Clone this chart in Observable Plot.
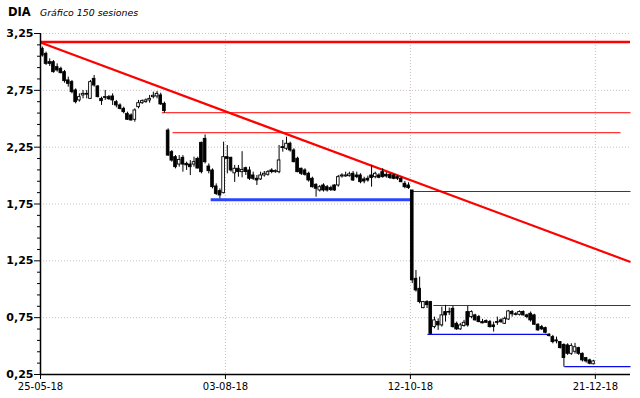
<!DOCTYPE html>
<html>
<head>
<meta charset="utf-8">
<script src="https://cdn.jsdelivr.net/npm/d3@7"></script>
<script src="https://cdn.jsdelivr.net/npm/@observablehq/plot@0.6"></script>
<style>
  html, body { margin: 0; padding: 0; background: #fff; }
  #title { position: relative; height: 22px; width: 640px; font-family: "DejaVu Sans", sans-serif; color: #000; }
  #title .t1 { position: absolute; left: 8px; top: 5px; font-size: 11.5px; font-weight: bold; }
  #title .t2 { position: absolute; left: 40px; top: 7px; font-size: 9.4px; font-style: italic; }
  #chart svg [aria-label="y-axis tick label"] text { font-weight: bold; }
</style>
</head>
<body>
<div id="title"><span class="t1">DIA</span><span class="t2">Gráfico 150 sesiones</span></div>
<div id="chart"></div>
<script>
// ---- Data ----
const opens = [
3.115,3.071,2.998,2.998,2.954,2.939,2.910,2.837,2.822,2.749,
2.661,2.705,2.719,2.675,2.851,2.784,2.675,2.690,2.690,2.696,
2.646,2.617,2.587,2.543,2.529,2.491,2.602,2.637,2.646,2.661,
2.690,2.696,2.705,2.631,2.396,2.206,2.162,2.097,2.156,2.103,
2.097,2.097,2.147,2.288,2.323,2.080,2.045,1.904,1.863,1.845,
2.162,2.156,2.020,2.060,2.030,2.065,2.045,2.001,1.972,1.966,
2.001,2.007,2.045,2.030,2.030,2.250,2.236,2.280,2.221,2.148,
2.060,2.045,2.016,1.972,1.919,1.869,1.913,1.898,1.890,1.913,
1.913,1.992,1.992,1.995,2.016,2.001,2.001,1.966,1.972,2.001,
1.986,2.001,2.030,2.007,2.007,2.001,1.986,1.972,1.928,1.913,
1.869,1.092,1.004,0.834,0.887,0.887,0.667,0.711,0.682,0.799,
0.800,0.828,0.696,0.647,0.676,0.799,0.755,0.770,0.755,0.711,
0.720,0.711,0.682,0.711,0.726,0.696,0.734,0.800,0.780,0.775,
0.800,0.770,0.784,0.770,0.688,0.667,0.658,0.600,0.579,0.550,
0.535,0.510,0.506,0.432,0.450,0.482,0.432,0.394,0.374,0.340];
const highs = [
3.130,3.086,3.027,3.012,2.983,2.954,2.925,2.866,2.837,2.763,
2.719,2.749,2.749,2.837,2.880,2.793,2.690,2.749,2.705,2.719,
2.661,2.631,2.602,2.558,2.543,2.587,2.661,2.666,2.675,2.705,
2.734,2.740,2.725,2.646,2.411,2.220,2.176,2.176,2.176,2.118,
2.132,2.162,2.162,2.294,2.358,2.103,2.059,1.927,1.883,2.294,
2.264,2.162,2.090,2.089,2.210,2.074,2.074,2.030,2.001,2.030,
2.036,2.045,2.060,2.050,2.265,2.309,2.338,2.294,2.236,2.162,
2.066,2.060,2.030,1.986,1.928,1.913,1.928,1.913,1.907,1.919,
2.001,2.016,2.030,2.030,2.036,2.030,2.016,1.986,1.995,2.089,
2.030,2.016,2.060,2.025,2.016,2.010,2.001,1.986,1.948,1.937,
1.869,1.165,1.107,0.893,0.900,0.893,0.755,0.740,0.843,0.858,
0.834,0.849,0.711,0.700,0.726,0.849,0.810,0.780,0.770,0.735,
0.730,0.726,0.711,0.755,0.740,0.755,0.814,0.814,0.795,0.810,
0.810,0.780,0.800,0.780,0.696,0.682,0.667,0.610,0.594,0.579,
0.540,0.520,0.520,0.520,0.524,0.490,0.440,0.400,0.385,0.375];
const lows = [
3.042,2.969,2.960,2.901,2.910,2.895,2.813,2.778,2.719,2.631,
2.646,2.675,2.675,2.669,2.778,2.684,2.617,2.661,2.661,2.617,
2.596,2.578,2.543,2.485,2.479,2.470,2.587,2.626,2.637,2.637,
2.675,2.675,2.617,2.549,2.170,2.118,2.059,2.074,2.030,2.045,
2.000,2.074,2.059,2.015,2.103,2.015,1.883,1.825,1.795,1.839,
2.015,2.030,1.940,1.986,1.980,2.001,1.957,1.957,1.913,1.957,
1.986,1.995,2.016,2.020,2.016,2.206,2.221,2.206,2.112,2.025,
2.001,1.995,1.942,1.890,1.810,1.855,1.855,1.855,1.860,1.860,
1.898,1.978,1.986,1.986,1.948,1.972,1.928,1.928,1.942,1.898,
1.972,1.972,1.978,1.978,1.966,1.963,1.957,1.937,1.884,1.878,
1.050,0.975,0.872,0.828,0.830,0.600,0.652,0.638,0.667,0.711,
0.770,0.658,0.638,0.638,0.667,0.667,0.740,0.720,0.705,0.696,
0.700,0.658,0.623,0.682,0.700,0.690,0.726,0.755,0.765,0.765,
0.765,0.740,0.711,0.682,0.630,0.638,0.608,0.580,0.520,0.520,
0.475,0.315,0.418,0.418,0.430,0.418,0.360,0.350,0.335,0.335];
const closes = [
3.056,2.983,2.983,2.910,2.925,2.901,2.831,2.807,2.734,2.646,
2.690,2.719,2.712,2.822,2.793,2.690,2.655,2.684,2.672,2.661,
2.617,2.587,2.558,2.491,2.485,2.573,2.637,2.655,2.661,2.675,
2.702,2.719,2.626,2.567,2.176,2.132,2.074,2.138,2.097,2.090,
2.074,2.118,2.062,2.030,2.118,2.039,1.898,1.839,1.825,2.162,
2.147,2.045,2.060,2.031,2.050,2.031,1.972,1.972,1.957,2.001,
2.016,2.030,2.031,2.040,2.133,2.242,2.280,2.221,2.118,2.030,
2.016,2.007,1.957,1.898,1.884,1.898,1.869,1.869,1.872,1.869,
1.986,2.001,2.001,2.010,1.957,1.986,1.942,1.948,1.957,1.978,
2.016,1.981,1.986,1.992,1.978,1.972,1.972,1.942,1.898,1.890,
1.078,0.990,0.887,0.887,0.860,0.608,0.726,0.682,0.770,0.770,
0.795,0.667,0.647,0.682,0.705,0.682,0.799,0.726,0.711,0.700,
0.705,0.667,0.667,0.705,0.710,0.740,0.805,0.780,0.775,0.800,
0.770,0.755,0.726,0.688,0.638,0.647,0.617,0.588,0.535,0.541,
0.482,0.395,0.432,0.500,0.490,0.432,0.374,0.365,0.345,0.365];

// Axis ticks
const yMajor = [0.25, 0.75, 1.25, 1.75, 2.25, 2.75, 3.25];
const yMinor = [0.35,0.45,0.55,0.65,0.85,0.95,1.05,1.15,1.35,1.45,1.55,1.65,1.85,1.95,2.05,2.15,2.35,2.45,2.55,2.65,2.85,2.95,3.05,3.15];
const xTickPos = [0, 50, 100, 150];
const xLabels = ["25-05-18", "03-08-18", "12-10-18", "21-12-18"];

// Drawn lines (session index, price)
const redTopLevel = [3.175];
const trendStart = [0, 3.17];
const trendEnd = [159.5, 1.24];
const resUpperValues = [2.553, 2.377];
const resUpperFrom = [32.8, 35.7];
const resUpperTo = [159.5, 156.8];
const resLowerValues = [1.86, 0.857];
const resLowerFrom = [100.5, 106.2];
const resLowerTo = [159.5, 159.5];
const supMainValue = [1.788];
const supMainFrom = [46];
const supMainTo = [100];
const supValues = [0.603, 0.319];
const supFrom = [104.6, 141.6];
const supTo = [137, 159.5];

// ---- Build tables ----
const candles = opens.map((o, j) => ({i: j + 0.5, open: o, high: highs[j], low: lows[j], close: closes[j]}));
const seg = (vals, from, to) => vals.map((v, j) => ({x1: from[j], x2: to[j], v}));
const resUpper = seg(resUpperValues, resUpperFrom, resUpperTo);
const resLower = seg(resLowerValues, resLowerFrom, resLowerTo);
const supMain = seg(supMainValue, supMainFrom, supMainTo);
const sup = seg(supValues, supFrom, supTo);
const trend = [{x1: trendStart[0], y1: trendStart[1], x2: trendEnd[0], y2: trendEnd[1]}];
const xMax = 159.5;

const gridColor = "#cbbfcb";
const fmt = d => d.toFixed(2).replace(".", ",");

const chart = Plot.plot({
  width: 640,
  height: 376,
  marginTop: 11,
  marginBottom: 24,
  marginLeft: 40,
  marginRight: 10,
  style: {fontFamily: "DejaVu Sans, sans-serif", fontSize: "10px", color: "#000", background: "#fff"},
  x: {domain: [0, xMax]},
  y: {domain: [0.25, 3.25]},
  marks: [
    Plot.ruleY(yMajor, {stroke: gridColor, strokeDasharray: "1,2"}),
    Plot.ruleX(xTickPos.filter(d => d > 0), {stroke: gridColor, strokeDasharray: "1,2"}),
    Plot.ruleY(redTopLevel, {x1: 0, x2: xMax, stroke: "#ff0000", strokeWidth: 2.6}),
    Plot.link(trend, {x1: "x1", y1: "y1", x2: "x2", y2: "y2", stroke: "#ff0000", strokeWidth: 2.2}),
    Plot.link(resUpper, {x1: "x1", x2: "x2", y1: "v", y2: "v", stroke: "#ff0000", strokeWidth: 1}),
    Plot.link(resLower, {x1: "x1", x2: "x2", y1: "v", y2: "v", stroke: "#c00000", strokeWidth: 1}),
    Plot.link(supMain, {x1: "x1", x2: "x2", y1: "v", y2: "v", stroke: "#2a45ff", strokeWidth: 3}),
    Plot.link(sup, {x1: "x1", x2: "x2", y1: "v", y2: "v", stroke: "#0a0ae6", strokeWidth: 1.4}),
    Plot.ruleX(candles, {x: "i", y1: "low", y2: "high", stroke: "#000", strokeWidth: 1}),
    Plot.rect(candles, {
      x1: d => d.i - 0.36, x2: d => d.i + 0.36, y1: "open", y2: "close",
      fill: d => d.close >= d.open ? "#fff" : "#000",
      stroke: "#000", strokeWidth: 0.9
    }),
    Plot.ruleX([0], {stroke: "#000", strokeWidth: 1.5}),
    Plot.ruleY([0.25], {stroke: "#000", strokeWidth: 1.5}),
    Plot.axisY(yMajor, {tickSize: 6, tickPadding: 1, tickFormat: fmt, fontSize: 11, fontWeight: "bold", fontFamily: "DejaVu Sans"}),
    Plot.axisY(yMinor, {tickSize: 3, tickFormat: () => ""}),
    Plot.axisX(xTickPos, {tickSize: 5, tickPadding: 3, fontSize: 10, tickFormat: d => xLabels[xTickPos.indexOf(d)]})
  ]
});
document.getElementById("chart").appendChild(chart);
</script>
</body>
</html>
